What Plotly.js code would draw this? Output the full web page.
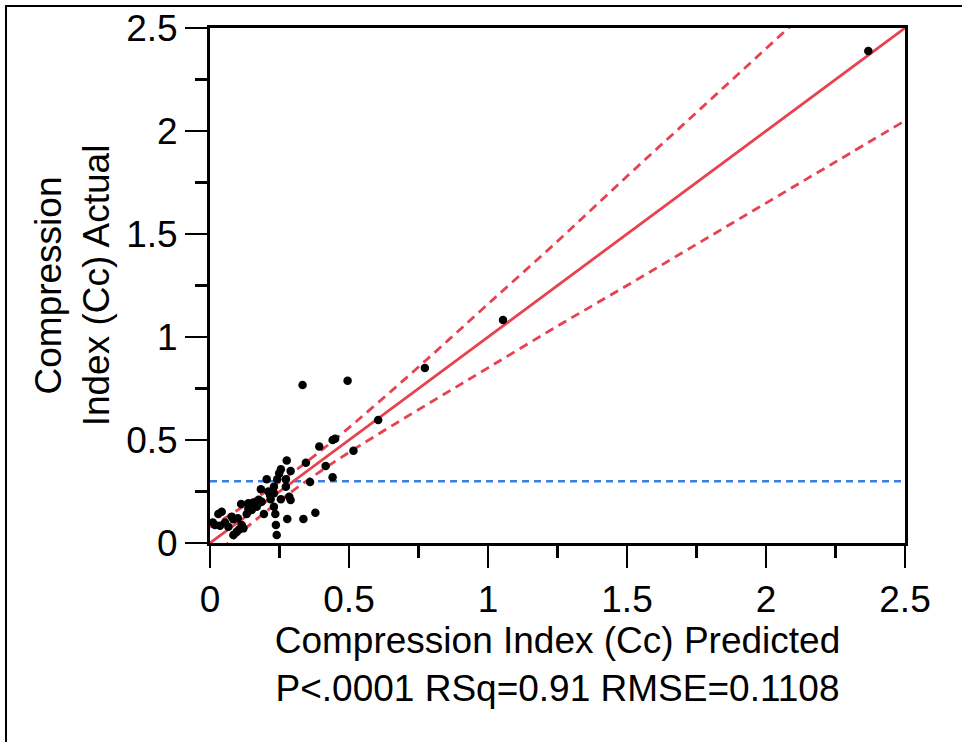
<!DOCTYPE html>
<html>
<head>
<meta charset="utf-8">
<script src="https://cdn.plot.ly/plotly-3.0.1.min.js"></script>
<style>
  html, body { margin: 0; padding: 0; background: #fff; }
  #wrap { position: relative; width: 962px; height: 742px; }
  #plot { position: absolute; left: 0; top: 0; width: 962px; height: 742px; }
  #frame { position: absolute; left: 5px; top: 5px; width: 957px; height: 737px;
           border-top: 2px solid #000; border-left: 2px solid #000; pointer-events: none; }
</style>
</head>
<body>
<div id="wrap">
  <div id="plot"></div>
  <div id="frame"></div>
</div>
<script>
// Scatter data: predicted vs actual compression index
const predicted = [0.333, 0.495, 0.605, 0.441, 0.450, 0.516, 0.393, 0.345, 0.416, 0.441,
  0.360, 0.379, 0.336, 0.278, 0.276, 0.290, 0.255, 0.249, 0.204, 0.242,
  0.273, 0.230, 0.183, 0.230, 0.216, 0.285, 0.255, 0.218, 0.290, 0.186,
  0.156, 0.112, 0.138, 0.230, 0.138, 0.168, 0.132, 0.194, 0.235, 0.237,
  0.240, 0.042, 0.030, 0.078, 0.084, 0.054, 0.018, 0.036, 0.066, 0.114,
  0.105, 0.096, 0.084, 0.120, 0.273, 0.773, 1.054, 2.368, 0.210, 0.150,
  0.175, 0.100, 0.010];
const actual = [0.767, 0.788, 0.597, 0.500, 0.506, 0.448, 0.468, 0.390, 0.374, 0.319,
  0.296, 0.147, 0.117, 0.117, 0.400, 0.350, 0.358, 0.338, 0.309, 0.309,
  0.273, 0.273, 0.261, 0.241, 0.233, 0.225, 0.212, 0.212, 0.209, 0.200,
  0.196, 0.189, 0.193, 0.176, 0.168, 0.176, 0.141, 0.141, 0.141, 0.087,
  0.039, 0.152, 0.141, 0.128, 0.115, 0.099, 0.087, 0.084, 0.079, 0.087,
  0.066, 0.055, 0.039, 0.071, 0.309, 0.850, 1.083, 2.388, 0.250, 0.160,
  0.210, 0.120, 0.100];

// Fit line (actual = predicted)
const fitX = [0, 2.5];
const fitY = [0, 2.5];

// Confidence band
const bandX = [0, 0.15, 0.3, 0.45, 0.6, 0.8, 1.0, 1.25, 1.5, 1.75, 2.0, 2.25, 2.5];
const bandUpper = [0.076, 0.204, 0.345, 0.504, 0.676, 0.915, 1.160, 1.465, 1.78, 2.09, 2.40, 2.71, 3.02];
const bandLower = [-0.076, 0.096, 0.255, 0.396, 0.524, 0.688, 0.850, 1.053, 1.25, 1.45, 1.65, 1.85, 2.05];

// Mean reference line
const meanX = [0, 2.5];
const meanY = [0.3, 0.3];

const tickVals = [0, 0.5, 1, 1.5, 2, 2.5];
const tickText = ['0', '0.5', '1', '1.5', '2', '2.5'];

const RED = '#e8414f';
const FONT = 'Liberation Sans, Arial, Helvetica, sans-serif';

const traces = [
  { x: meanX, y: meanY, mode: 'lines', line: { color: '#3a7de3', width: 2.6, dash: '7px,5px' }, hoverinfo: 'skip' },
  { x: bandX, y: bandUpper, mode: 'lines', line: { color: RED, width: 2.8, dash: '9px,6px', shape: 'spline' }, hoverinfo: 'skip' },
  { x: bandX, y: bandLower, mode: 'lines', line: { color: RED, width: 2.8, dash: '9px,6px', shape: 'spline' }, hoverinfo: 'skip' },
  { x: fitX, y: fitY, mode: 'lines', line: { color: RED, width: 2.8 }, hoverinfo: 'skip' },
  { x: predicted, y: actual, mode: 'markers', marker: { color: '#000', size: 8.5 } }
];

const axisCommon = {
  range: [0, 2.5],
  tickvals: tickVals,
  ticktext: tickText,
  ticks: 'outside',
  ticklen: 22,
  tickwidth: 2.5,
  tickcolor: '#000',
  showline: true,
  linecolor: '#000',
  linewidth: 3,
  mirror: true,
  showgrid: false,
  zeroline: false,
  tickfont: { family: FONT, size: 37, color: '#000' },
  minor: { dtick: 0.25, ticks: 'outside', ticklen: 12, tickwidth: 2.5, tickcolor: '#000', showgrid: false }
};

const layout = {
  width: 962,
  height: 742,
  margin: { l: 210, r: 57, t: 28, b: 199 },
  paper_bgcolor: '#fff',
  plot_bgcolor: '#fff',
  showlegend: false,
  xaxis: Object.assign({}, axisCommon, {
    title: { text: 'Compression Index (Cc) Predicted<br>P&lt;.0001 RSq=0.91 RMSE=0.1108',
             font: { family: FONT, size: 37, color: '#000' }, standoff: 0 }
  }),
  yaxis: Object.assign({}, axisCommon, {
    title: { text: 'Compression<br>Index (Cc) Actual',
             font: { family: FONT, size: 37, color: '#000' }, standoff: 6 }
  })
};

Plotly.newPlot('plot', traces, layout, { displayModeBar: false, staticPlot: true });
</script>
</body>
</html>
